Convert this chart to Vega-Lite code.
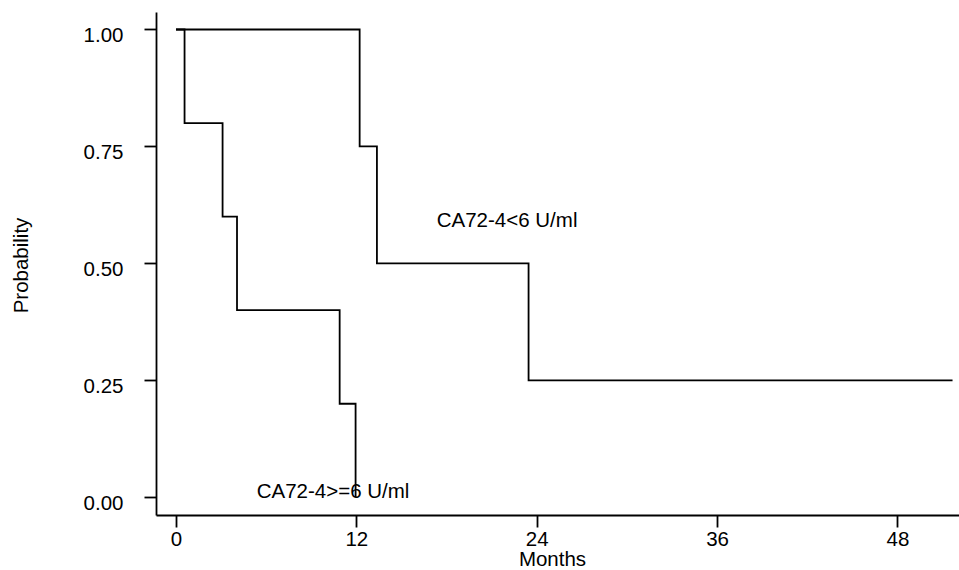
{
  "$schema": "https://vega.github.io/schema/vega-lite/v6.json",
  "width": 803,
  "height": 503,
  "autosize": {"type": "none"},
  "padding": {"left": 156, "top": 12, "right": 0, "bottom": 55},
  "background": "white",
  "config": {
    "view": {"stroke": null},
    "font": "Liberation Sans",
    "axis": {
      "grid": false,
      "domainColor": "black",
      "domainWidth": 1.8,
      "tickColor": "black",
      "tickWidth": 1.8,
      "tickSize": 12,
      "labelFont": "Liberation Sans",
      "labelFontSize": 20.5,
      "labelColor": "black",
      "labelFlush": false,
      "labelOverlap": false,
      "labelBound": false,
      "titleFont": "Liberation Sans",
      "titleFontSize": 20.5,
      "titleFontWeight": "normal",
      "titleColor": "black"
    }
  },
  "datasets": {
    "curves": [
      {"group": "CA72-4<6 U/ml", "months": 0, "prob": 1.0},
      {"group": "CA72-4<6 U/ml", "months": 12.22, "prob": 0.75},
      {"group": "CA72-4<6 U/ml", "months": 13.37, "prob": 0.5},
      {"group": "CA72-4<6 U/ml", "months": 23.46, "prob": 0.25},
      {"group": "CA72-4<6 U/ml", "months": 51.67, "prob": 0.25},
      {"group": "CA72-4>=6 U/ml", "months": 0, "prob": 1.0},
      {"group": "CA72-4>=6 U/ml", "months": 0.57, "prob": 0.8},
      {"group": "CA72-4>=6 U/ml", "months": 3.1, "prob": 0.6},
      {"group": "CA72-4>=6 U/ml", "months": 4.06, "prob": 0.4},
      {"group": "CA72-4>=6 U/ml", "months": 10.89, "prob": 0.2},
      {"group": "CA72-4>=6 U/ml", "months": 11.95, "prob": 0.0}
    ],
    "labels": [
      {"label": "CA72-4<6 U/ml", "months": 17.35, "prob": 0.577},
      {"label": "CA72-4>=6 U/ml", "months": 5.37, "prob": -0.002}
    ]
  },
  "layer": [
    {
      "data": {"name": "curves"},
      "mark": {"type": "line", "interpolate": "step-after", "color": "black", "strokeWidth": 1.8},
      "encoding": {
        "x": {
          "field": "months",
          "type": "quantitative",
          "scale": {"domain": [-1.33, 52.1], "nice": false, "zero": false},
          "axis": {
            "values": [0, 12, 24, 36, 48],
            "title": "Months",
            "labelPadding": 2,
            "titleX": 396,
            "titleY": 50,
            "titleBaseline": "alphabetic",
            "titleAnchor": null
          }
        },
        "y": {
          "field": "prob",
          "type": "quantitative",
          "scale": {"domain": [-0.0378, 1.0374], "nice": false, "zero": false},
          "axis": {
            "values": [0, 0.25, 0.5, 0.75, 1],
            "format": ".2f",
            "title": "Probability",
            "labelPadding": 21,
            "labelBaseline": "alphabetic",
            "labelOffset": 12,
            "titleX": -129,
            "titleY": 253,
            "titleAngle": 270,
            "titleBaseline": "alphabetic"
          }
        },
        "detail": {"field": "group"}
      }
    },
    {
      "data": {"name": "labels"},
      "mark": {"type": "text", "align": "left", "baseline": "alphabetic", "fontSize": 20.5, "color": "black", "font": "Liberation Sans"},
      "encoding": {
        "x": {"field": "months", "type": "quantitative"},
        "y": {"field": "prob", "type": "quantitative"},
        "text": {"field": "label"}
      }
    }
  ]
}
